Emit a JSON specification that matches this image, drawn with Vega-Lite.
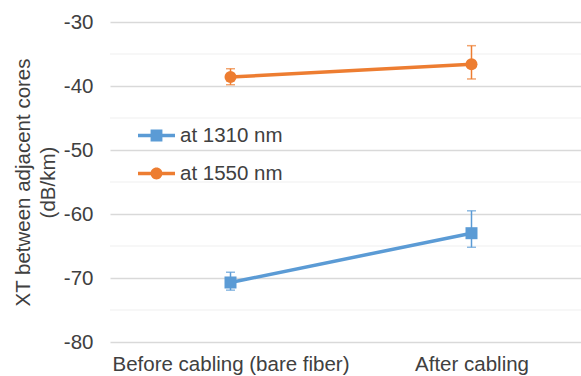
{
  "$schema": "https://vega.github.io/schema/vega-lite/v6.json",
  "width": 482,
  "height": 320,
  "autosize": {"type": "none"},
  "padding": {"left": 110, "top": 22, "right": 0, "bottom": 34},
  "background": "white",
  "config": {
    "font": "Liberation Sans",
    "view": {"stroke": null},
    "axis": {"labelFont": "Liberation Sans", "titleFont": "Liberation Sans", "labelColor": "#404040", "titleColor": "#404040", "labelFontSize": 20.5, "titleFontSize": 20.5, "titleFontWeight": "normal", "labelLimit": 0},
    "legend": {"labelFont": "Liberation Sans", "labelFontSize": 20.5, "labelColor": "#404040"}
  },
  "resolve": {"legend": {"color": "independent", "shape": "independent"}, "scale": {"shape": "independent"}},
  "datasets": {
    "pts": [
      {"stage": "Before cabling (bare fiber)", "series": "at 1310 nm", "xt": -70.7, "lo": -71.9, "hi": -69.1},
      {"stage": "After cabling", "series": "at 1310 nm", "xt": -63.0, "lo": -65.2, "hi": -59.5},
      {"stage": "Before cabling (bare fiber)", "series": "at 1550 nm", "xt": -38.6, "lo": -39.8, "hi": -37.3},
      {"stage": "After cabling", "series": "at 1550 nm", "xt": -36.6, "lo": -38.9, "hi": -33.7}
    ],
    "minor": [{"v": -35}, {"v": -45}, {"v": -55}, {"v": -65}, {"v": -75}]
  },
  "layer": [
    {
      "data": {"name": "minor"},
      "mark": {"type": "rule", "color": "#f0f0f0", "strokeWidth": 1.2},
      "encoding": {
        "y": {"field": "v", "type": "quantitative", "scale": {"domain": [-80, -30], "nice": false, "zero": false},
          "axis": {"values": [-80, -70, -60, -50, -40, -30], "labelExpr": "toString(datum.value)", "grid": true, "gridColor": "#d9d9d9", "gridWidth": 1.3, "domain": false, "ticks": false, "labelPadding": 17,
            "title": ["XT between adjacent cores", "(dB/km)"], "titlePadding": 5, "titleLineHeight": 25}}
      }
    },
    {
      "data": {"name": "pts"},
      "mark": {"type": "rule", "strokeWidth": 1.5},
      "encoding": {
        "x": {"field": "stage", "type": "nominal", "sort": ["Before cabling (bare fiber)", "After cabling"], "scale": {"type": "point", "padding": 0.5},
          "axis": {"title": null, "labelAngle": 0, "domain": false, "ticks": false, "grid": false, "labelPadding": 12}},
        "y": {"field": "lo", "type": "quantitative"},
        "y2": {"field": "hi"},
        "color": {"field": "series", "type": "nominal", "legend": null, "scale": {"domain": ["at 1310 nm", "at 1550 nm"], "range": ["#5B9BD5", "#ED7D31"]}}
      }
    },
    {
      "data": {"name": "pts"},
      "mark": {"type": "tick", "thickness": 1.5, "size": 9},
      "encoding": {
        "x": {"field": "stage", "type": "nominal", "sort": ["Before cabling (bare fiber)", "After cabling"]},
        "y": {"field": "lo", "type": "quantitative"},
        "color": {"field": "series", "type": "nominal", "legend": null}
      }
    },
    {
      "data": {"name": "pts"},
      "mark": {"type": "tick", "thickness": 1.5, "size": 9},
      "encoding": {
        "x": {"field": "stage", "type": "nominal", "sort": ["Before cabling (bare fiber)", "After cabling"]},
        "y": {"field": "hi", "type": "quantitative"},
        "color": {"field": "series", "type": "nominal", "legend": null}
      }
    },
    {
      "data": {"name": "pts"},
      "mark": {"type": "line", "strokeWidth": 3.5},
      "encoding": {
        "x": {"field": "stage", "type": "nominal", "sort": ["Before cabling (bare fiber)", "After cabling"]},
        "y": {"field": "xt", "type": "quantitative"},
        "color": {"field": "series", "type": "nominal", "legend": null}
      }
    },
    {
      "data": {"name": "pts"},
      "mark": {"type": "point", "filled": true, "opacity": 1, "size": 144},
      "encoding": {
        "x": {"field": "stage", "type": "nominal", "sort": ["Before cabling (bare fiber)", "After cabling"]},
        "y": {"field": "xt", "type": "quantitative"},
        "color": {"field": "series", "type": "nominal", "legend": null},
        "shape": {"field": "series", "type": "nominal", "legend": null, "scale": {"domain": ["at 1310 nm", "at 1550 nm"], "range": ["square", "circle"]}}
      }
    },
    {
      "data": {"name": "pts"},
      "mark": {"type": "point", "filled": true, "opacity": 0, "size": 144},
      "encoding": {
        "x": {"field": "stage", "type": "nominal", "sort": ["Before cabling (bare fiber)", "After cabling"]},
        "y": {"field": "xt", "type": "quantitative"},
        "color": {"field": "series", "type": "nominal",
          "legend": {"title": null, "orient": "none", "legendX": 28, "legendY": 95, "symbolSize": 1369, "rowPadding": 9, "labelOffset": 5, "symbolStrokeWidth": 0, "symbolOpacity": 1}},
        "shape": {"field": "series", "type": "nominal",
          "legend": {"title": null, "orient": "none", "legendX": 28, "legendY": 95, "symbolSize": 1369, "rowPadding": 9, "labelOffset": 5, "symbolStrokeWidth": 0, "symbolOpacity": 1},
          "scale": {"domain": ["at 1310 nm", "at 1550 nm"], "range": ["M-1,-0.09H1V0.09H-1Z M-0.32,-0.32H0.32V0.32H-0.32Z", "M-1,-0.09H1V0.09H-1Z M0.32,0A0.32,0.32 0 1 1 -0.32,0A0.32,0.32 0 1 1 0.32,0Z"]}}
      }
    }
  ]
}
